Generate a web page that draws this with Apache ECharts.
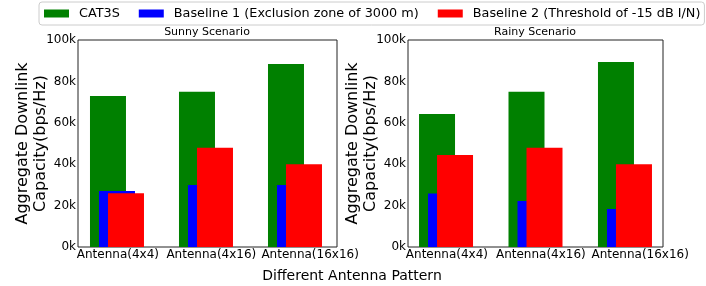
<!DOCTYPE html>
<html lang="en">
<head>
    <meta charset="UTF-8">
    <title>CAT3S vs baselines</title>
    <script src="https://cdn.jsdelivr.net/npm/echarts@6/dist/echarts.min.js"></script>
    <style>
        html, body { margin: 0; padding: 0; background: #fff; }
        #chart { width: 706px; height: 286px; }
    </style>
</head>
<body>
<div id="chart"></div>
<script type="text/javascript">
    // 数据
    var antennas = ['Antenna(4x4)', 'Antenna(4x16)', 'Antenna(16x16)'];
    var seriesNames = ['CAT3S', 'Baseline 1 (Exclusion zone of 3000 m)', 'Baseline 2 (Threshold of -15 dB I/N)'];
    var sunnyCat3s = [73000, 75000, 88400];
    var sunnyBase1 = [27000, 30000, 30000];
    var sunnyBase2 = [26000, 48000, 40000];
    var rainyCat3s = [64300, 75000, 89400];
    var rainyBase1 = [25800, 22200, 18400];
    var rainyBase2 = [44400, 48000, 40000];
    var yTicks = [0, 20000, 40000, 60000, 80000, 100000];

    var colors = ['#008000', '#0000ff', '#ff0000'];
    var font = 'DejaVu Sans';
    // 刻度标签的位置（参考图里不是等距的）
    var labelAt = [0.01, 1.06, 2.17];

    var echart = echarts.init(document.getElementById('chart'));

    function toPoints(values) {
        return values.map(function (v, i) { return [i, v]; });
    }

    function makeX(gridIndex, min, max) {
        return {
            type: 'value',
            gridIndex: gridIndex,
            min: min,
            max: max,
            axisLine: {show: false},
            axisTick: {show: false},
            splitLine: {show: false},
            axisLabel: {
                customValues: labelAt,
                margin: 2,
                fontFamily: font,
                fontSize: 12,
                color: '#000',
                formatter: function (v) {
                    return antennas[Math.round(v)];
                }
            }
        };
    }

    function makeY(gridIndex) {
        return {
            type: 'value',
            gridIndex: gridIndex,
            min: yTicks[0],
            max: yTicks[yTicks.length - 1],
            interval: 20000,
            name: 'Aggregate Downlink\nCapacity(bps/Hz)',
            nameLocation: 'middle',
            nameGap: 28,
            nameMoveOverlap: false,
            nameTextStyle: {fontFamily: font, fontSize: 16, lineHeight: 18, color: '#000'},
            axisLine: {show: false},
            axisTick: {show: false},
            splitLine: {show: false},
            axisLabel: {
                margin: 2,
                fontFamily: font,
                fontSize: 12,
                color: '#000',
                formatter: function (v) { return (v / 1000) + 'k'; }
            }
        };
    }

    function makeSeries(gridIndex, groups) {
        return groups.map(function (values, k) {
            return {
                name: seriesNames[k],
                type: 'bar',
                xAxisIndex: gridIndex,
                yAxisIndex: gridIndex,
                barWidth: 36,
                barGap: '-75%',
                itemStyle: {color: colors[k]},
                data: toPoints(values)
            };
        });
    }

    var options = {
        animation: false,
        color: colors,
        title: [
            {text: 'Sunny Scenario', left: 207, top: 27, textAlign: 'center', padding: 0,
                textStyle: {fontFamily: font, fontSize: 11, fontWeight: 'normal', color: '#000'}},
            {text: 'Rainy Scenario', left: 535, top: 27, textAlign: 'center', padding: 0,
                textStyle: {fontFamily: font, fontSize: 11, fontWeight: 'normal', color: '#000'}},
            {text: 'Different Antenna Pattern', left: 352, top: 269, textAlign: 'center', padding: 0,
                textStyle: {fontFamily: font, fontSize: 14, fontWeight: 'normal', color: '#000'}}
        ],
        legend: {
            data: seriesNames,
            left: 39,
            top: 2,
            width: 700,
            itemWidth: 25,
            itemHeight: 8,
            itemGap: 19,
            padding: [5, 4, 5, 5],
            borderColor: '#cccccc',
            borderWidth: 1,
            borderRadius: 3,
            backgroundColor: '#fff',
            icon: 'rect',
            textStyle: {fontFamily: font, fontSize: 12.8, color: '#000', padding: [0, 0, 0, 5]}
        },
        grid: [
            {left: 78, top: 40, width: 259, height: 207, show: true, borderColor: '#222', borderWidth: 1},
            {left: 408, top: 40, width: 255, height: 207, show: true, borderColor: '#222', borderWidth: 1}
        ],
        xAxis: [makeX(0, -0.438, 2.472), makeX(1, -0.425, 2.425)],
        yAxis: [makeY(0), makeY(1)],
        series: makeSeries(0, [sunnyCat3s, sunnyBase1, sunnyBase2])
            .concat(makeSeries(1, [rainyCat3s, rainyBase1, rainyBase2]))
    };
    echart.setOption(options);
</script>
</body>
</html>
